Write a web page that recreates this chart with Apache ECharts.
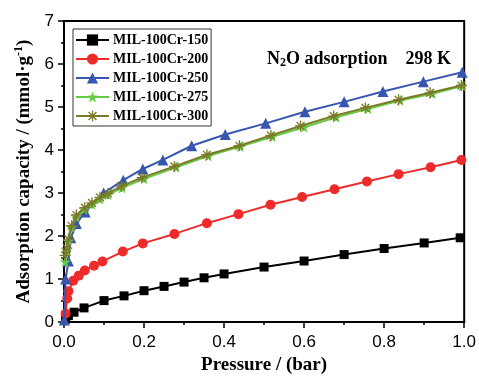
<!DOCTYPE html>
<html>
<head>
<meta charset="utf-8">
<script src="https://cdn.jsdelivr.net/npm/echarts@6/dist/echarts.min.js"></script>
<style>html,body{margin:0;padding:0;background:#fff}#c{width:479px;height:380px}</style>
</head>
<body>
<div id="c"></div>
<script>
// ---- data ----
const seriesNames = ['MIL-100Cr-150', 'MIL-100Cr-200', 'MIL-100Cr-250', 'MIL-100Cr-275', 'MIL-100Cr-300'];

const x150 = [0.004,0.011,0.025,0.05,0.1,0.15,0.2,0.25,0.3,0.35,0.4,0.5,0.6,0.7,0.8,0.9,0.99];
const y150 = [0.07,0.15,0.23,0.33,0.5,0.61,0.73,0.83,0.93,1.03,1.12,1.28,1.42,1.57,1.71,1.84,1.96];

const x200 = [0.004,0.008,0.011,0.023,0.037,0.052,0.075,0.096,0.147,0.197,0.276,0.357,0.436,0.516,0.595,0.676,0.757,0.836,0.916,0.993];
const y200 = [0.2,0.55,0.72,0.96,1.08,1.2,1.31,1.41,1.64,1.83,2.05,2.3,2.51,2.73,2.91,3.09,3.27,3.44,3.6,3.77];

const x250 = [0.001,0.004,0.011,0.017,0.031,0.053,0.099,0.148,0.197,0.247,0.319,0.403,0.504,0.602,0.7,0.797,0.898,0.995];
const y250 = [0.05,1.0,1.42,1.96,2.29,2.56,3.0,3.3,3.56,3.77,4.1,4.36,4.62,4.89,5.12,5.36,5.59,5.81];

const x275 = [0.003,0.007,0.011,0.019,0.031,0.05,0.07,0.09,0.11,0.145,0.2,0.28,0.36,0.44,0.52,0.6,0.68,0.76,0.84,0.92,0.995];
const y275 = [1.4,1.65,1.88,2.2,2.44,2.62,2.74,2.86,2.96,3.12,3.33,3.6,3.86,4.08,4.31,4.53,4.76,4.96,5.15,5.31,5.49];

const x300 = [0.003,0.007,0.011,0.019,0.031,0.052,0.07,0.09,0.11,0.143,0.195,0.276,0.357,0.438,0.517,0.591,0.674,0.753,0.836,0.915,0.993];
const y300 = [1.55,1.72,1.93,2.24,2.49,2.66,2.77,2.9,2.99,3.16,3.36,3.62,3.89,4.1,4.34,4.56,4.79,4.98,5.17,5.33,5.5];

const xTicks = ['0.0','0.2','0.4','0.6','0.8','1.0'];
const yTicks = ['0','1','2','3','4','5','6','7'];

// ---- styling ----
const STAR = 'path://M0,-10 L2.35,-3.24 L9.51,-3.09 L3.80,1.24 L5.88,8.09 L0,4 L-5.88,8.09 L-3.80,1.24 L-9.51,-3.09 L-2.35,-3.24 Z';
const ASTER = 'path://M-10,-1.2 L10,-1.2 L10,1.2 L-10,1.2 Z M-1.2,-10 L1.2,-10 L1.2,10 L-1.2,10 Z ' +
  'M-6.22,-7.92 L7.92,6.22 L6.22,7.92 L-7.92,-6.22 Z M-7.92,6.22 L6.22,-7.92 L7.92,-6.22 L-6.22,7.92 Z';

const colors = ['#000000', '#ee2b2b', '#3656b0', '#66cc44', '#7a7a28'];
const symbols = ['rect', 'circle', 'triangle', STAR, ASTER];
const symbolSizes = [9, 10, 11, 11, 11];
const xs = [x150, x200, x250, x275, x300];
const ys = [y150, y200, y250, y275, y300];

const serif = 'Liberation Serif, Times New Roman, serif';
const sans = 'Liberation Sans, Arial, sans-serif';

const series = seriesNames.map((n, i) => ({
  name: n,
  type: 'line',
  data: xs[i].map((x, k) => [x, ys[i][k]]),
  symbol: symbols[i],
  symbolSize: symbolSizes[i],
  showAllSymbol: true,
  lineStyle: { color: colors[i], width: 2 },
  itemStyle: { color: colors[i] },
  z: 2 + i,
  animation: false
}));

const chart = echarts.init(document.getElementById('c'));
chart.setOption({
  animation: false,
  backgroundColor: '#fff',
  grid: { left: 64, right: 13, top: 21, bottom: 50, show: true, borderColor: '#000', borderWidth: 2, backgroundColor: 'transparent' },
  title: {
    text: '{a|N}{s|2}{a|O adsorption    298 K}',
    left: 262, top: 44,
    textStyle: {
      rich: {
        a: { fontFamily: serif, fontWeight: 'bold', fontSize: 18, color: '#000', lineHeight: 20 },
        s: { fontFamily: serif, fontWeight: 'bold', fontSize: 12, color: '#000', verticalAlign: 'bottom', lineHeight: 20 }
      }
    }
  },
  legend: {
    orient: 'vertical',
    left: 73, top: 29,
    padding: [4, 3, 3, 2],
    itemWidth: 33, itemHeight: 14, itemGap: 5,
    borderColor: '#333', borderWidth: 1,
    textStyle: { fontFamily: serif, fontWeight: 'bold', fontSize: 14, color: '#000', lineHeight: 14, padding: [0, 0, 0, -1] },
    data: seriesNames
  },
  xAxis: {
    type: 'value', min: 0, max: 1, interval: 0.2,
    name: 'Pressure / (bar)', nameLocation: 'middle', nameGap: 29,
    nameTextStyle: { fontFamily: serif, fontWeight: 'bold', fontSize: 19, color: '#000' },
    axisLine: { lineStyle: { color: '#000', width: 2 } },
    axisTick: { inside: false, length: 6, lineStyle: { color: '#000', width: 1.5 } },
    minorTick: { show: true, splitNumber: 2, length: 3, lineStyle: { color: '#000', width: 1.5 } },
    splitLine: { show: false },
    axisLabel: { fontFamily: sans, fontSize: 17, color: '#000', margin: 12,
      formatter: v => xTicks[Math.round(v / 0.2)] }
  },
  yAxis: {
    type: 'value', min: 0, max: 7, interval: 1,
    name: '{a|Adsorption capacity / (mmol·g}{s|-1}{a|)}', nameLocation: 'middle', nameGap: 28,
    nameTextStyle: {
      rich: {
        a: { fontFamily: serif, fontWeight: 'bold', fontSize: 19, color: '#000', lineHeight: 22 },
        s: { fontFamily: serif, fontWeight: 'bold', fontSize: 12, color: '#000', verticalAlign: 'top', lineHeight: 22 }
      }
    },
    axisLine: { lineStyle: { color: '#000', width: 2 } },
    axisTick: { inside: false, length: 6, lineStyle: { color: '#000', width: 1.5 } },
    minorTick: { show: true, splitNumber: 2, length: 3, lineStyle: { color: '#000', width: 1.5 } },
    splitLine: { show: false },
    axisLabel: { fontFamily: sans, fontSize: 17, color: '#000', margin: 10,
      formatter: v => yTicks[Math.round(v)] }
  },
  series: series
});
</script>
</body>
</html>
